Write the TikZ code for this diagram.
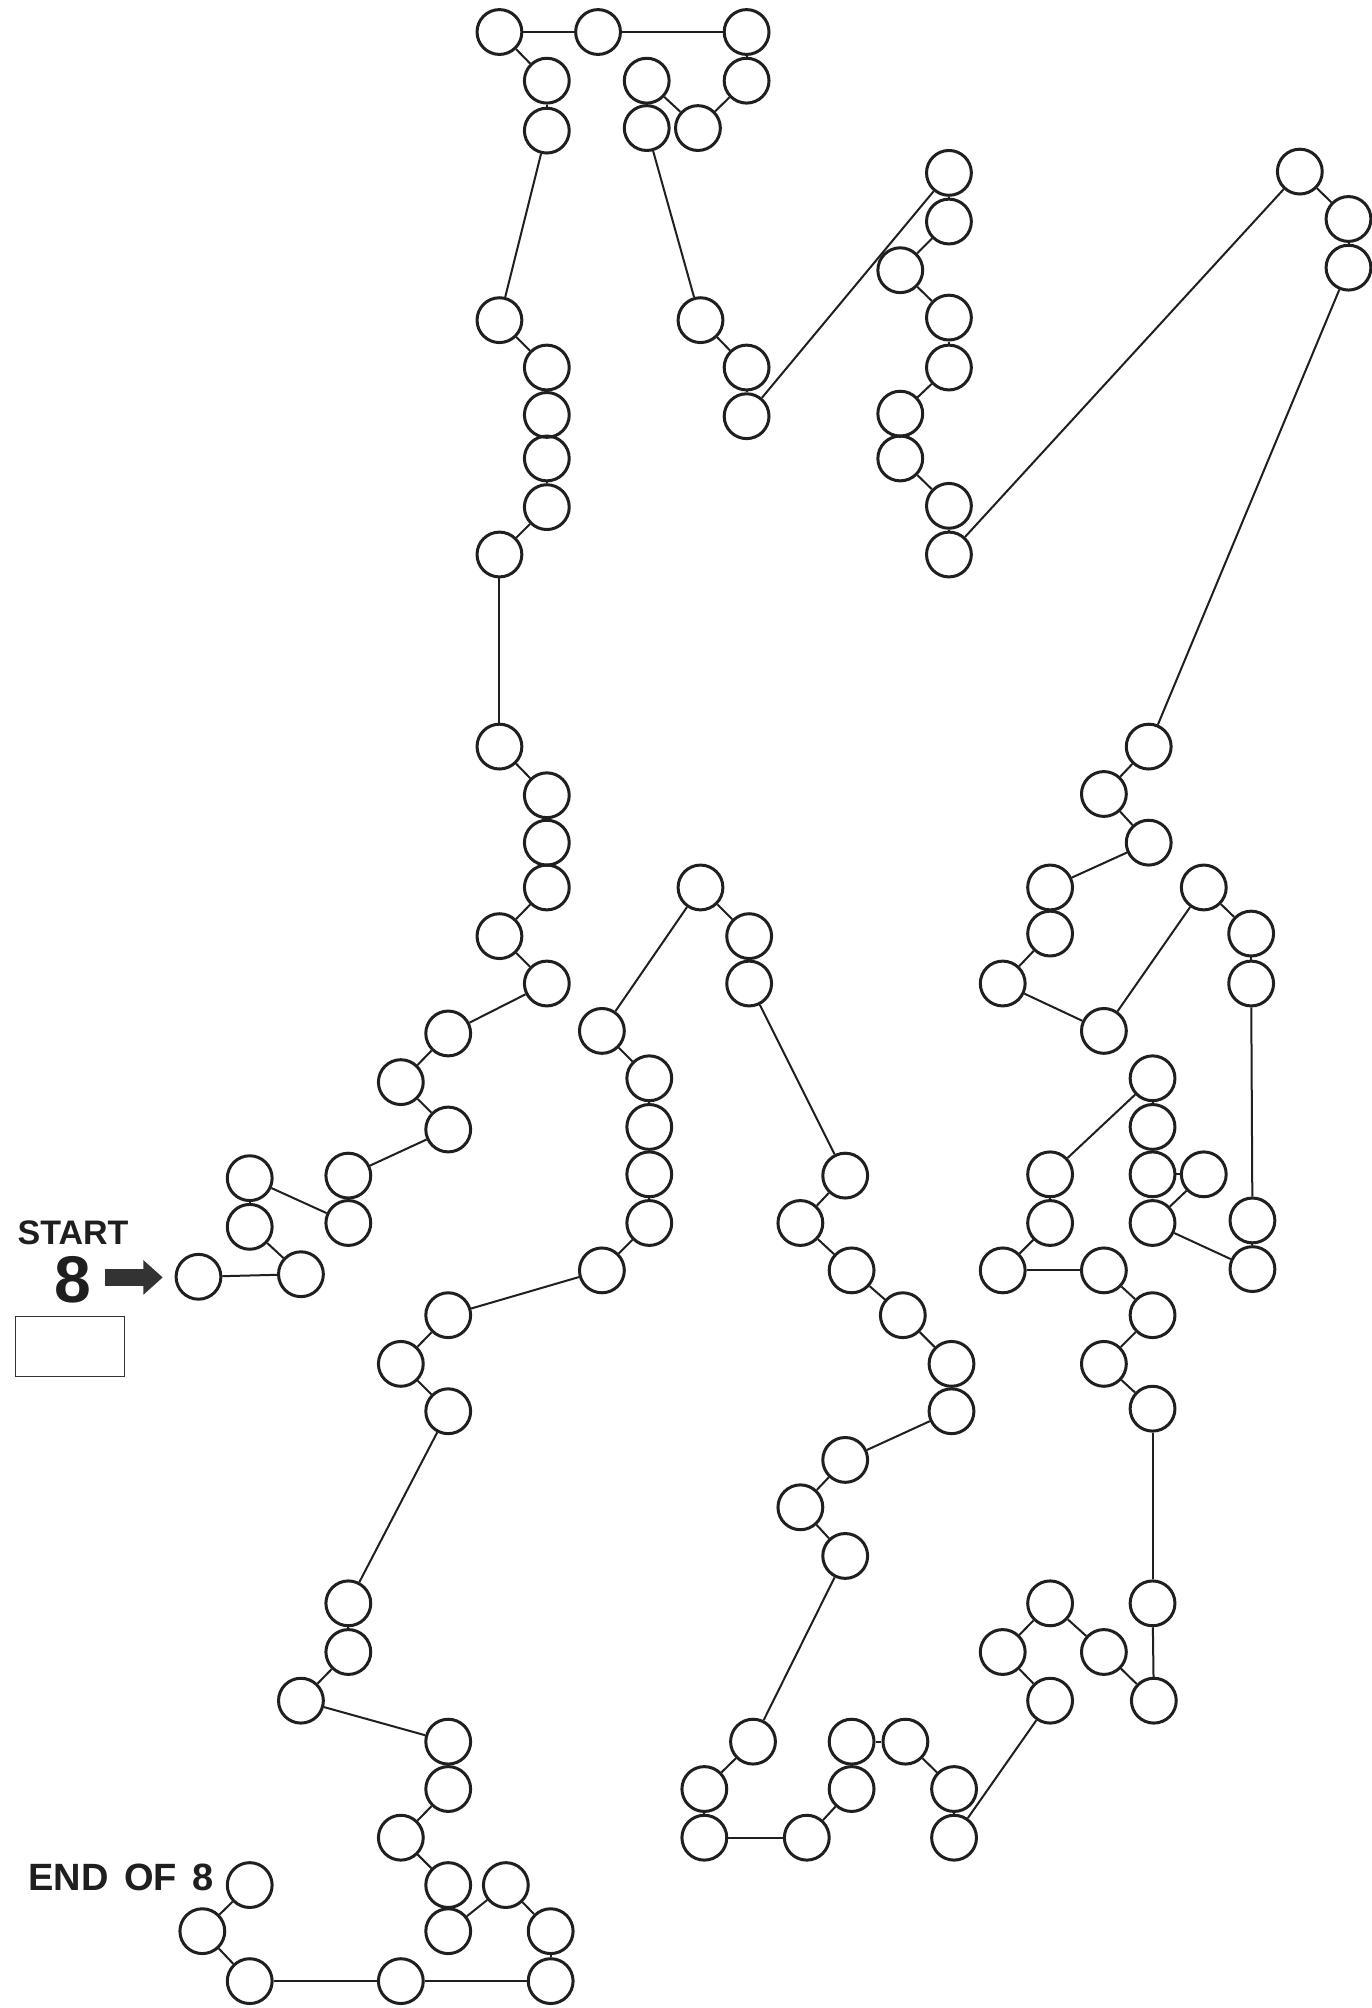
\documentclass[tikz,border=0pt]{standalone}
\usepackage{fontspec}
\setmainfont{Liberation Sans}
\begin{document}
\begin{tikzpicture}[x=0.64pt,y=-0.64pt,
  ring/.style={circle,draw=black!88,line width=1.5pt,minimum size=22.4pt,inner sep=0pt},
  conn/.style={draw=black!88,line width=1pt},
  label/.style={text=black!88,inner sep=0pt},
  answerbox/.style={draw=black!80,line width=0.7pt,minimum width=54.4pt,minimum height=30pt,inner sep=0pt}]
\useasboundingbox (0,0) rectangle (1071,1568);

% the dots of the puzzle, in the order they are joined
\foreach \p [count=\k] in {
  (155,997),(235,995),(195,958),(195,920),(272,955),(272,918),(350,882),(313,845),
  (350,807),(427,768),(390,731),(427,693),(427,658),(427,621),(390,583),(390,433),
  (427,396),(427,358),(427,324),(427,287),(390,250),(427,102),(427,63),(390,25),
  (467,25),(583,25),(583,63),(545,100),(505,63),(505,100),(547,250),(583,287),
  (583,325),(741,135),(741,173),(703,211),(741,248),(741,287),(703,323),(703,358),
  (741,395),(741,433),(1015,134),(1053,171),(1053,209),(897,583),(862,620),(897,658),
  (820,693),(820,729),(783,768),(862,805),(940,693),(977,729),(977,768),(978,953),
  (978,991),(900,955),(940,917),(900,917),(900,880),(900,842),(820,917),(820,955),
  (783,992),(862,992),(900,1027),(862,1065),(900,1100),(900,1252),(901,1328),(862,1290),
  (820,1252),(783,1290),(820,1328),(745,1435),(745,1397),(707,1360),(665,1360),(665,1397),
  (630,1435),(550,1435),(550,1397),(588,1360),(660,1215),(625,1177),(660,1140),(743,1102),
  (743,1065),(705,1027),(665,992),(625,955),(660,918),(585,768),(585,731),(547,693),
  (470,805),(507,842),(507,880),(507,917),(507,955),(470,992),(350,1027),(313,1065),
  (350,1102),(272,1252),(272,1290),(235,1328),(350,1360),(350,1397),(313,1435),(350,1472),
  (350,1508),(395,1472),(430,1508),(430,1547),(313,1547),(195,1547),(158,1508),(195,1472)}
  \node[ring] (n\k) at \p {};

% the line joining each dot to the next
\foreach \k in {1,...,119} {
  \pgfmathtruncatemacro\nxt{\k+1}
  \draw[conn] (n\k) -- (n\nxt);
}

% start marker
\node[label,font=\bfseries\fontsize{17}{17}\selectfont] (startlbl) at (57,963) {START};
\node[label,font=\bfseries\fontsize{33}{33}\selectfont] (eight) at (57,999) {8};
\fill[black!80] (82,991) -- (112,991) -- (112,984) -- (127,997.5) -- (112,1011) -- (112,1004) -- (82,1004) -- cycle;
\node[answerbox] (box) at (54.5,1051.5) {};

% end marker
\node[label,font=\bfseries\fontsize{19}{19}\selectfont,anchor=west] (endlbl) at (22,1466) {END\hspace{0.4em}OF\hspace{0.4em}8};
\end{tikzpicture}
\end{document}
